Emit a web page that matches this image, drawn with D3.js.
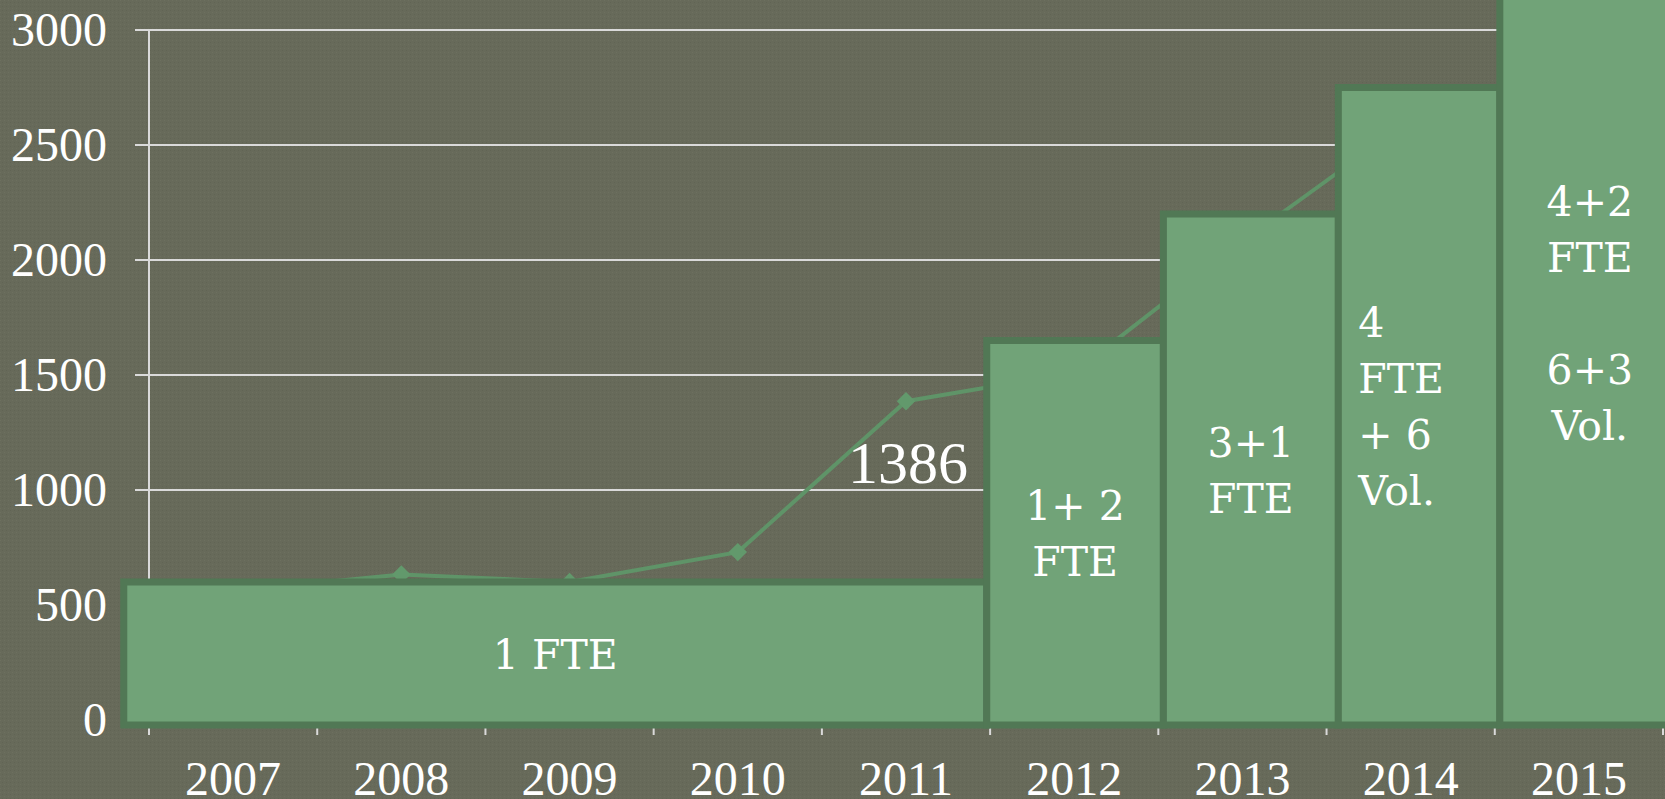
<html>
<head>
    <title>Staff and visits</title>
    <script src="https://d3js.org/d3.v7.min.js"></script>
    <style>
        body { margin: 0; background: #676a5a; overflow: hidden; }
    </style>
</head>
<body>
    <div id="chart"></div>
    <script>
        // values
        var years = ['2007', '2008', '2009', '2010', '2011', '2012', '2013', '2014', '2015'];
        var visits = [560, 633, 600, 730, 1386, 1510, 2080, 2610, 2850];
        var yTicks = [0, 500, 1000, 1500, 2000, 2500, 3000];
        var labelledYear = '2011';

        // staffing blocks drawn over the chart (start / end in years, height in chart units)
        var staffFrom = [2006.85, 2011.98, 2013.03, 2014.07, 2015.03];
        var staffTo = [2011.98, 2013.03, 2014.07, 2015.03, 2016.1];
        var staffLevel = [600, 1650, 2200, 2750, 3560];
        var staffText = [
            ['1 FTE'],
            ['1+ 2', 'FTE'],
            ['3+1', 'FTE'],
            ['4', 'FTE', '+ 6', 'Vol.'],
            ['4+2', 'FTE', '', '6+3', 'Vol.']
        ];

        var W = 1665, H = 799;
        var mLeft = 149, mRight = 1663, mTop = 30, mBottom = 720;

        var svg = d3.select('#chart').append('svg')
            .attr('width', W)
            .attr('height', H);

        // faint woven background
        var defs = svg.append('defs');
        var pat = defs.append('pattern')
            .attr('id', 'bg')
            .attr('width', 4).attr('height', 4)
            .attr('patternUnits', 'userSpaceOnUse');
        pat.append('rect').attr('width', 4).attr('height', 4).attr('fill', '#676a5a');
        pat.append('rect').attr('x', 0).attr('y', 0).attr('width', 1).attr('height', 1).attr('fill', '#6d705f');
        pat.append('rect').attr('x', 2).attr('y', 2).attr('width', 1).attr('height', 1).attr('fill', '#616454');
        svg.append('rect').attr('width', W).attr('height', H).attr('fill', 'url(#bg)');

        var x = d3.scaleBand().domain(years).range([mLeft, mRight]).padding(0);
        var yearPos = d3.scaleLinear().domain([2007, 2016]).range([mLeft, mRight]);
        var y = d3.scaleLinear().domain([0, 3000]).range([mBottom, mTop]);

        // grid lines
        svg.append('g').selectAll('line')
            .data(yTicks)
            .enter().append('line')
            .attr('x1', mLeft - 14).attr('x2', mRight)
            .attr('y1', function (d) { return y(d); })
            .attr('y2', function (d) { return y(d); })
            .style('stroke', '#dadada')
            .style('stroke-width', 2);

        svg.append('line')
            .attr('x1', mLeft).attr('x2', mLeft)
            .attr('y1', mTop).attr('y2', mBottom)
            .style('stroke', '#dadada')
            .style('stroke-width', 2);

        // y labels
        svg.append('g').selectAll('text')
            .data(yTicks)
            .enter().append('text')
            .attr('x', 107)
            .attr('y', function (d) { return y(d) + 16; })
            .attr('text-anchor', 'end')
            .style('font-family', '"Liberation Serif", serif')
            .style('font-size', '48px')
            .style('fill', '#ffffff')
            .text(function (d) { return d; });

        // x axis ticks + labels
        var gx = svg.append('g')
            .attr('transform', 'translate(0,' + mBottom + ')');
        gx.selectAll('line.tk')
            .data(d3.range(years.length + 1))
            .enter().append('line')
            .attr('class', 'tk')
            .attr('x1', function (d) { return yearPos(2007 + d); })
            .attr('x2', function (d) { return yearPos(2007 + d); })
            .attr('y1', 0).attr('y2', 15)
            .style('stroke', '#dadada')
            .style('stroke-width', 2);
        gx.append('line')
            .attr('x1', mLeft).attr('x2', mRight)
            .attr('y1', 0).attr('y2', 0)
            .style('stroke', '#dadada')
            .style('stroke-width', 2);

        svg.append('g').selectAll('text')
            .data(years)
            .enter().append('text')
            .attr('x', function (d) { return x(d) + x.bandwidth() / 2; })
            .attr('y', 795)
            .attr('text-anchor', 'middle')
            .style('font-family', '"Liberation Serif", serif')
            .style('font-size', '48px')
            .style('fill', '#ffffff')
            .text(function (d) { return d; });

        // visits line
        var pts = years.map(function (d, i) {
            return { year: d, value: visits[i], cx: x(d) + x.bandwidth() / 2, cy: y(visits[i]) };
        });
        var line = d3.line()
            .x(function (d) { return d.cx; })
            .y(function (d) { return d.cy; });
        svg.append('path')
            .datum(pts)
            .attr('d', line)
            .style('fill', 'none')
            .style('stroke', '#5f9468')
            .style('stroke-width', 4);
        svg.append('g').selectAll('path')
            .data(pts)
            .enter().append('path')
            .attr('d', d3.symbol().type(d3.symbolSquare).size(170))
            .attr('transform', function (d) { return 'translate(' + d.cx + ',' + d.cy + ') rotate(45)'; })
            .style('fill', '#62996c');

        // data label
        var lp = pts.filter(function (d) { return d.year === labelledYear; })[0];
        svg.append('text')
            .attr('x', lp.cx + 2)
            .attr('y', lp.cy + 82)
            .attr('text-anchor', 'middle')
            .style('font-family', '"Liberation Serif", serif')
            .style('font-size', '60px')
            .style('fill', '#ffffff')
            .text(lp.value);

        // staffing blocks
        var base = y(0) + 5;
        var blocks = staffLevel.map(function (v, i) {
            return {
                x0: yearPos(staffFrom[i]), x1: yearPos(staffTo[i]),
                top: y(v), lines: staffText[i], i: i
            };
        });
        svg.append('g').selectAll('rect')
            .data(blocks)
            .enter().append('rect')
            .attr('x', function (d) { return d.x0; })
            .attr('y', function (d) { return d.top; })
            .attr('width', function (d) { return d.x1 - d.x0; })
            .attr('height', function (d) { return base - d.top; })
            .style('fill', '#71a378')
            .style('stroke', '#517855')
            .style('stroke-width', 7);

        var lineGap = 56;
        var tg = svg.append('g').selectAll('text')
            .data(blocks)
            .enter().append('text')
            .attr('text-anchor', function (d) { return d.i === 3 ? 'start' : 'middle'; })
            .style('font-family', '"DejaVu Serif", serif')
            .style('font-size', '41px')
            .style('fill', '#ffffff');
        tg.each(function (d) {
            var cx = (d.x0 + d.x1) / 2;
            if (d.i === 3) cx = d.x0 + 20;
            if (d.i === 4) cx = d.x0 + 90;
            var cy = (d.top + base) / 2;
            var first = cy - (d.lines.length - 1) * lineGap / 2 + 15;
            var t = d3.select(this);
            d.lines.forEach(function (s, k) {
                t.append('tspan')
                    .attr('x', cx)
                    .attr('y', first + k * lineGap)
                    .text(s);
            });
        });
    </script>
</body>
</html>
